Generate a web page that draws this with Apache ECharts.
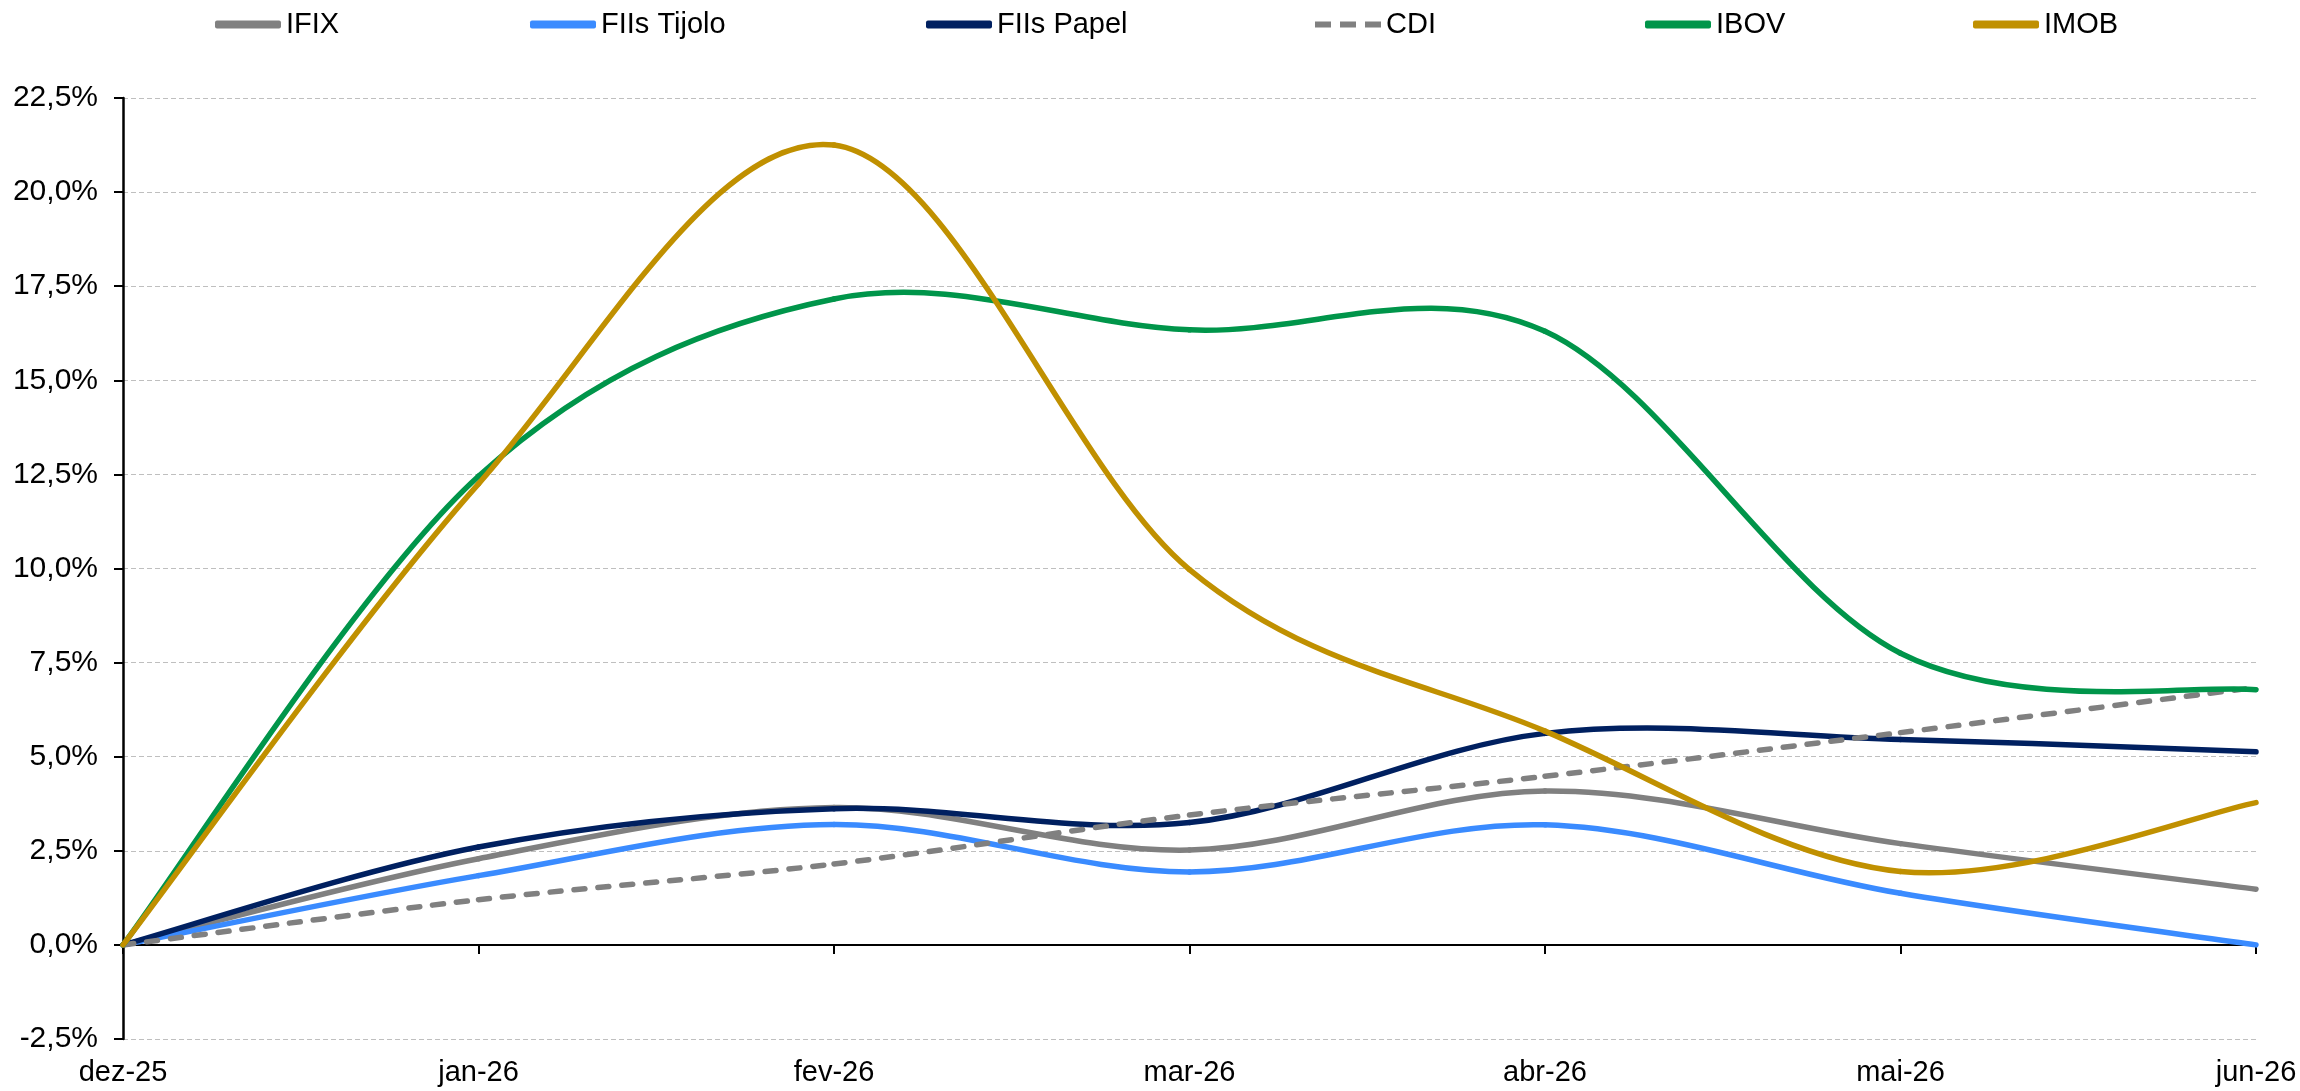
<!DOCTYPE html>
<html>
<head>
<meta charset="utf-8">
<script src="https://cdn.jsdelivr.net/npm/echarts@6/dist/echarts.min.js"></script>
<style>
  html, body { margin: 0; padding: 0; background: #fff; }
  #chart { width: 2300px; height: 1091px; }
</style>
</head>
<body>
<div id="chart"></div>
<script>
// meses
var months = ['dez-25', 'jan-26', 'fev-26', 'mar-26', 'abr-26', 'mai-26', 'jun-26'];

// retorno acumulado (%)
var ifix = [0, 2.29, 3.65, 2.52, 4.09, 2.69, 1.48];
var fiisTijolo = [0, 1.84, 3.2, 1.94, 3.19, 1.37, 0.0];
var fiisPapel = [0, 2.6, 3.62, 3.25, 5.62, 5.46, 5.13];
var cdi = [0, 1.2, 2.15, 3.45, 4.48, 5.64, 6.84];
var ibov = [0, 12.45, 17.16, 16.34, 16.3, 7.75, 6.78];
var imob = [0, 12.25, 21.25, 9.97, 5.68, 1.95, 3.78];

var fmt = function (v) { return v.toFixed(1).replace('.', ',') + '%'; };
var font = 'Liberation Sans, Arial, sans-serif';

// curva suavizada estilo Excel (bezier entre os pontos mensais)
function serie(name, values, color, dashed) {
  return {
    name: name,
    type: 'custom',
    xAxisIndex: 0,
    itemStyle: { color: color },
    encode: { x: 0, y: 1 },
    data: values.map(function (v, i) { return [i, v]; }),
    renderItem: function (params, api) {
      if (params.dataIndexInside !== 0) return;
      var n = params.dataInsideLength;
      var pts = [];
      for (var i = 0; i < n; i++) {
        pts.push(api.coord([api.value(0, i), api.value(1, i)]));
      }
      var children = [];
      for (var k = 0; k < n - 1; k++) {
        var p0 = pts[Math.max(k - 1, 0)], p1 = pts[k], p2 = pts[k + 1], p3 = pts[Math.min(k + 2, n - 1)];
        children.push({
          type: 'bezierCurve',
          shape: {
            x1: p1[0], y1: p1[1], x2: p2[0], y2: p2[1],
            cpx1: p1[0] + (p2[0] - p0[0]) / 6, cpy1: p1[1] + (p2[1] - p0[1]) / 6,
            cpx2: p2[0] - (p3[0] - p1[0]) / 6, cpy2: p2[1] - (p3[1] - p1[1]) / 6
          },
          style: {
            fill: null,
            stroke: color,
            lineWidth: 5.5,
            lineDash: dashed ? [11, 13] : null,
            lineCap: 'round',
            lineJoin: 'round'
          }
        });
      }
      return { type: 'group', children: children };
    }
  };
}

var dashIcon = 'path://M0,0H16V6H0Z M25,0H41V6H25Z M50,0H66V6H50Z';
var legendLeft = [210, 525, 921, 1310, 1640, 1968];
var legendNames = ['IFIX', 'FIIs Tijolo', 'FIIs Papel', 'CDI', 'IBOV', 'IMOB'];

var myChart = echarts.init(document.getElementById('chart'));
myChart.setOption({
  animation: false,
  legend: legendNames.map(function (nm, i) {
    return {
      top: 5,
      left: legendLeft[i],
      itemWidth: 66,
      itemHeight: 8,
      itemGap: 0,
      textStyle: { fontFamily: font, fontSize: 29, color: '#000' },
      data: [{ name: nm, icon: nm === 'CDI' ? dashIcon : 'roundRect' }]
    };
  }),
  grid: { left: 123, right: 44, top: 98, bottom: 52 },
  xAxis: [
    {
      type: 'category',
      data: months,
      boundaryGap: false,
      axisLine: { onZero: true, lineStyle: { color: '#000', width: 2 } },
      axisTick: { show: true, length: 9, lineStyle: { color: '#000', width: 2 } },
      axisLabel: { show: false },
      splitLine: { show: false }
    },
    {
      type: 'category',
      data: months,
      boundaryGap: false,
      position: 'bottom',
      axisLine: { show: false, onZero: false },
      axisTick: { show: false },
      axisLabel: { fontFamily: font, fontSize: 29, color: '#000', margin: 19 },
      splitLine: { show: false }
    }
  ],
  yAxis: {
    type: 'value',
    min: -2.5,
    max: 22.5,
    interval: 2.5,
    axisLine: { show: true, onZero: false, lineStyle: { color: '#000', width: 2.5 } },
    axisTick: { show: true, length: 9, lineStyle: { color: '#000', width: 2 } },
    axisLabel: { formatter: fmt, fontFamily: font, fontSize: 30, color: '#000', margin: 25 },
    splitLine: { show: true, lineStyle: { color: '#bfbfbf', width: 1.2, type: [5, 3] } }
  },
  series: [
    serie('IFIX', ifix, '#808080', false),
    serie('FIIs Tijolo', fiisTijolo, '#3a8bff', false),
    serie('FIIs Papel', fiisPapel, '#002060', false),
    serie('CDI', cdi, '#808080', true),
    serie('IBOV', ibov, '#00954a', false),
    serie('IMOB', imob, '#c09000', false)
  ]
});
</script>
</body>
</html>
